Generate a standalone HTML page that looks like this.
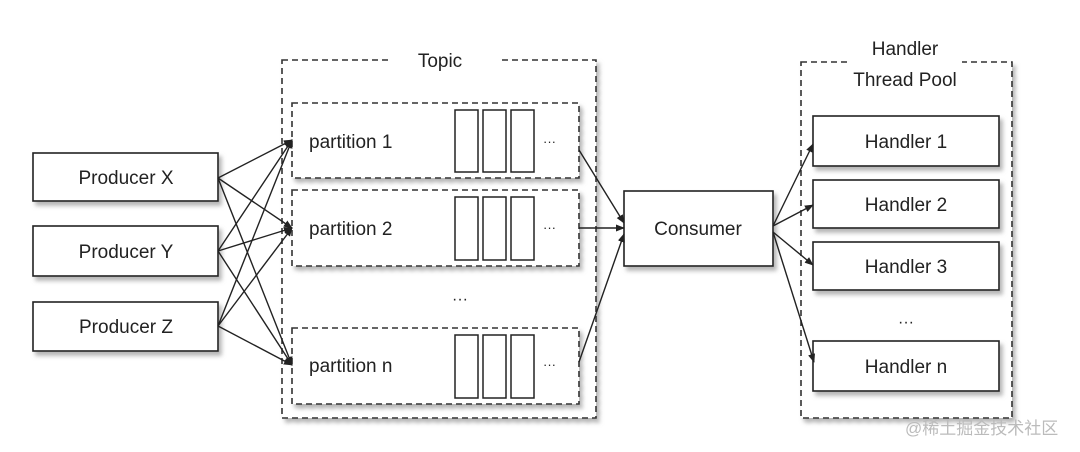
<!DOCTYPE html>
<html><head><meta charset="utf-8"><style>
html,body{margin:0;padding:0;background:#fff;}
svg{display:block;}
text{font-family:"Liberation Sans","Noto Sans CJK SC",sans-serif;fill:#222;}
</style></head><body>
<svg width="1080" height="452" viewBox="0 0 1080 452" xmlns="http://www.w3.org/2000/svg">
<defs>
<filter id="sh" x="-10%" y="-10%" width="130%" height="140%"><feDropShadow dx="3" dy="4" stdDeviation="2" flood-color="#777" flood-opacity="0.55"/></filter>
<marker id="ah" viewBox="0 0 10 10" refX="9" refY="5" markerWidth="9" markerHeight="9" orient="auto" markerUnits="userSpaceOnUse"><path d="M0,1 L10,5 L0,9 z" fill="#222"/></marker>
</defs>
<rect width="1080" height="452" fill="#fff"/>
<g fill="#fff" stroke="#333" stroke-width="1.6" stroke-dasharray="6,4" filter="url(#sh)">
<rect x="282" y="60" width="314" height="358"/>
<rect x="801" y="62" width="211" height="356"/>
</g>
<rect x="390" y="50" width="110" height="20" fill="#fff"/>
<rect x="850" y="52" width="112" height="20" fill="#fff"/>
<text x="440" y="67" font-size="19" text-anchor="middle">Topic</text>
<text x="905" y="55" font-size="19" text-anchor="middle">Handler</text>
<text x="905" y="86" font-size="19" text-anchor="middle">Thread Pool</text>
<g fill="#fff" stroke="#333" stroke-width="1.6" stroke-dasharray="6,4" filter="url(#sh)">
<rect x="292" y="103" width="287" height="75"/>
<rect x="292" y="190" width="287" height="76"/>
<rect x="292" y="328" width="287" height="76"/>
</g>
<g fill="#fff" stroke="#222" stroke-width="1.6" filter="url(#sh)">
<rect x="33" y="153" width="185" height="48"/>
<rect x="33" y="226" width="185" height="50"/>
<rect x="33" y="302" width="185" height="49"/>
<rect x="624" y="191" width="149" height="75"/>
<rect x="813" y="116" width="186" height="50"/>
<rect x="813" y="180" width="186" height="48"/>
<rect x="813" y="242" width="186" height="48"/>
<rect x="813" y="341" width="186" height="50"/>
</g>
<g fill="none" stroke="#222" stroke-width="1.5">
<rect x="455" y="110" width="23" height="62"/><rect x="483" y="110" width="23" height="62"/><rect x="511" y="110" width="23" height="62"/>
<rect x="455" y="197" width="23" height="63"/><rect x="483" y="197" width="23" height="63"/><rect x="511" y="197" width="23" height="63"/>
<rect x="455" y="335" width="23" height="63"/><rect x="483" y="335" width="23" height="63"/><rect x="511" y="335" width="23" height="63"/>
</g>
<g font-size="19" text-anchor="middle">
<text x="126" y="184">Producer X</text>
<text x="126" y="258">Producer Y</text>
<text x="126" y="333">Producer Z</text>
<text x="698" y="235">Consumer</text>
<text x="906" y="148">Handler 1</text>
<text x="906" y="211">Handler 2</text>
<text x="906" y="273">Handler 3</text>
<text x="906" y="373">Handler n</text>
</g>
<g font-size="19">
<text x="309" y="148">partition 1</text>
<text x="309" y="235">partition 2</text>
<text x="309" y="372">partition n</text>
</g>
<g font-size="13" fill="#555">
<text x="543" y="146">···</text><text x="543" y="232">···</text><text x="543" y="369">···</text>
</g>
<text x="452" y="304" font-size="16">···</text>
<text x="898" y="327" font-size="16">···</text>
<g stroke="#222" stroke-width="1.4" marker-end="url(#ah)">
<line x1="218" y1="178" x2="292" y2="140"/><line x1="218" y1="178" x2="292" y2="228"/><line x1="218" y1="178" x2="292" y2="365"/>
<line x1="218" y1="251" x2="292" y2="140"/><line x1="218" y1="251" x2="292" y2="228"/><line x1="218" y1="251" x2="292" y2="365"/>
<line x1="218" y1="326" x2="292" y2="140"/><line x1="218" y1="326" x2="292" y2="228"/><line x1="218" y1="326" x2="292" y2="365"/>
<line x1="579" y1="150" x2="624" y2="223"/><line x1="579" y1="228" x2="624" y2="228"/><line x1="579" y1="362" x2="624" y2="234"/>
<line x1="773" y1="226" x2="813" y2="144"/><line x1="773" y1="226" x2="813" y2="205"/><line x1="773" y1="232" x2="813" y2="265"/><line x1="773" y1="232" x2="814" y2="362"/>
</g>
<text x="905" y="434" font-size="17" fill="#bbb" style="fill:#bbb">@稀土掘金技术社区</text>
</svg>
</body></html>
